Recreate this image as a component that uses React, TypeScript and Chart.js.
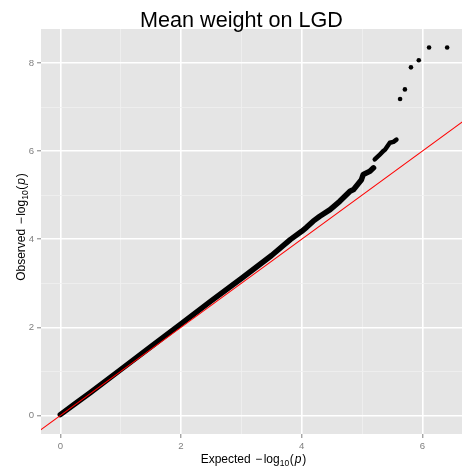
import React, { useEffect, useRef } from "react";
import { Chart, registerables } from "chart.js";

Chart.register(...registerables);

// Dense part of the Q-Q curve (expected vs observed -log10 p)
const curveExpected = [0, 0.25, 0.5, 1, 1.5, 2, 2.5, 3, 3.5, 3.81, 4.0, 4.08, 4.19, 4.3, 4.47, 4.63, 4.8, 4.86, 4.99, 5.02, 5.13, 5.19];
const curveObserved = [0.02, 0.27, 0.52, 1.04, 1.56, 2.08, 2.6, 3.11, 3.63, 3.99, 4.18, 4.27, 4.41, 4.52, 4.67, 4.86, 5.09, 5.13, 5.35, 5.47, 5.54, 5.62];
// Upper tail segment after the small jump
const upperExpected = [5.21, 5.28, 5.35, 5.38, 5.46, 5.52, 5.57];
const upperObserved = [5.81, 5.9, 6.0, 6.03, 6.19, 6.21, 6.26];
// Isolated top points
const topExpected = [5.63, 5.71, 5.81, 5.94, 6.11, 6.41];
const topObserved = [7.18, 7.4, 7.9, 8.06, 8.35, 8.35];
// y = x reference line ends
const refLine = [-0.5, 7];

const xMajor = [0, 2, 4, 6];
const xMinor = [1, 3, 5];
const yMajor = [0, 2, 4, 6, 8];
const yMinor = [1, 3, 5, 7];
const xLimits = [-0.32, 6.656];
const yLimits = [-0.42, 8.77];

const FONT = '"Liberation Sans", Arial, Helvetica, sans-serif';

type Piece = { text: string; size: number; italic?: boolean; dy?: number; gap?: number };

const labelPieces = (word: string): Piece[] => [
  { text: word, size: 12 },
  { text: "\u2212", size: 12, gap: 4.5 },
  { text: "log", size: 12, gap: 1.5 },
  { text: "10", size: 8.5, dy: 3 },
  { text: "(", size: 12, gap: 0.5 },
  { text: "p", size: 12, italic: true, gap: 1 },
  { text: ")", size: 12, gap: 1 },
];

function drawRich(ctx: CanvasRenderingContext2D, pieces: Piece[], cx: number, cy: number, rotate: boolean) {
  ctx.save();
  ctx.translate(cx, cy);
  if (rotate) ctx.rotate(-Math.PI / 2);
  ctx.fillStyle = "#000000";
  ctx.textBaseline = "alphabetic";
  ctx.textAlign = "left";
  let total = 0;
  const widths: number[] = [];
  pieces.forEach((p) => {
    ctx.font = `${p.italic ? "italic " : ""}${p.size}px ${FONT}`;
    const w = ctx.measureText(p.text).width;
    widths.push(w);
    total += w + (p.gap || 0);
  });
  let x = -total / 2;
  pieces.forEach((p, i) => {
    x += p.gap || 0;
    ctx.font = `${p.italic ? "italic " : ""}${p.size}px ${FONT}`;
    ctx.fillText(p.text, x, p.dy || 0);
    x += widths[i];
  });
  ctx.restore();
}

const ggPlugin = {
  id: "ggDecor",
  beforeDraw(chart: any) {
    const { ctx, chartArea } = chart;
    ctx.save();
    ctx.fillStyle = "#E5E5E5";
    ctx.fillRect(chartArea.left, chartArea.top, chartArea.right - chartArea.left, chartArea.bottom - chartArea.top);
    ctx.restore();
  },
  afterDraw(chart: any) {
    const { ctx } = chart;
    ctx.save();
    ctx.fillStyle = "#000000";
    ctx.font = `21.6px ${FONT}`;
    ctx.textAlign = "center";
    ctx.textBaseline = "alphabetic";
    ctx.fillText("Mean weight on LGD", 241.5, 26.5);
    ctx.restore();
    drawRich(ctx, labelPieces("Expected"), 253.5, 462.5, false);
    drawRich(ctx, labelPieces("Observed"), 25, 227, true);
  },
};

const isMajor = (arr: number[], v: number) => arr.some((m) => Math.abs(m - v) < 1e-9);

function axisOptions(limits: number[], major: number[], minor: number[], isX: boolean) {
  return {
    type: "linear",
    min: limits[0],
    max: limits[1],
    afterBuildTicks: (scale: any) => {
      scale.ticks = [...major, ...minor].sort((a, b) => a - b).map((v) => ({ value: v }));
    },
    afterFit: (scale: any) => {
      if (isX) scale.height = 41;
      else scale.width = 41;
    },
    border: { display: false },
    grid: {
      color: (c: any) => (isMajor(major, c.tick.value) ? "#FFFFFF" : "#F0F0F0"),
      lineWidth: (c: any) => (isMajor(major, c.tick.value) ? 1.6 : 0.8),
      tickColor: (c: any) => (isMajor(major, c.tick.value) ? "#7F7F7F" : "rgba(0,0,0,0)"),
      tickWidth: 1,
      tickLength: 4,
      drawTicks: true,
    },
    ticks: {
      autoSkip: false,
      maxRotation: 0,
      padding: 3,
      color: "#7F7F7F",
      font: { family: FONT, size: 9.6 },
      callback: (v: any) => (isMajor(major, Number(v)) ? String(v) : ""),
    },
  };
}

export default function App() {
  const ref = useRef<HTMLCanvasElement | null>(null);
  useEffect(() => {
    if (!ref.current) return;
    const chart = new Chart(ref.current, {
      type: "scatter",
      data: {
        datasets: [
          {
            data: refLine.map((v) => ({ x: v, y: v })),
            showLine: true,
            borderColor: "#FF0000",
            borderWidth: 1.1,
            pointRadius: 0,
            clip: 0,
            order: 0,
          },
          {
            data: curveExpected.map((x, i) => ({ x, y: curveObserved[i] })),
            showLine: true,
            borderColor: "#000000",
            borderWidth: 5.5,
            borderCapStyle: "round",
            borderJoinStyle: "round",
            pointRadius: 0,
            order: 1,
          },
          {
            data: upperExpected.map((x, i) => ({ x, y: upperObserved[i] })),
            showLine: true,
            borderColor: "#000000",
            borderWidth: 4.5,
            borderCapStyle: "round",
            borderJoinStyle: "round",
            pointRadius: 0,
            order: 1,
          },
          {
            data: topExpected.map((x, i) => ({ x, y: topObserved[i] })),
            showLine: false,
            backgroundColor: "#000000",
            borderColor: "#000000",
            borderWidth: 0,
            pointRadius: 2.3,
            order: 1,
          },
        ],
      } as any,
      options: {
        animation: false,
        responsive: false,
        devicePixelRatio: 1,
        events: [],
        layout: { autoPadding: false, padding: { top: 29, left: 0, right: 0, bottom: 0 } },
        plugins: { legend: { display: false }, tooltip: { enabled: false }, title: { display: false } },
        scales: {
          x: axisOptions(xLimits, xMajor, xMinor, true),
          y: axisOptions(yLimits, yMajor, yMinor, false),
        } as any,
      },
      plugins: [ggPlugin],
    });
    return () => chart.destroy();
  }, []);
  return (
    <div style={{ position: "fixed", left: 0, top: 0, width: 462, height: 475, background: "#FFFFFF" }}>
      <canvas ref={ref} width={462} height={475} style={{ display: "block" }} />
    </div>
  );
}
